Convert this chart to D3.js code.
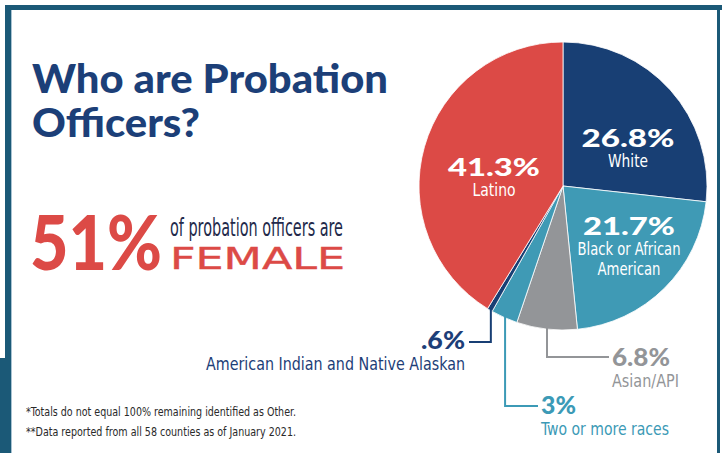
<!DOCTYPE html>
<html>
<head>
<meta charset="utf-8">
<script src="https://cdn.jsdelivr.net/npm/d3@7"></script>
<style>
  html, body { margin: 0; padding: 0; background: #fff; }
  svg { display: block; }
  .cond { font-family: 'Liberation Sans Narrow', 'DejaVu Sans Condensed', Roboto, sans-serif; font-stretch: condensed; }
  .heavy { font-family: Lato, 'Open Sans', sans-serif; font-weight: 900; }
</style>
</head>
<body>
<div id="chart"></div>
<script>
// ---- data ----
const categories = ["White", "Black or African American", "Asian/API", "Two or more races", "American Indian and Native Alaskan", "Latino"];
const values = [26.8, 21.7, 6.8, 3, 0.6, 41.3];
const valueLabels = ["26.8%", "21.7%", "6.8%", "3%", ".6%", "41.3%"];
const headline = ["Who are Probation", "Officers?"];
const femaleShare = "51%";
const femaleText = ["of probation officers are", "FEMALE"];
const footnotes = ["*Totals do not equal 100% remaining identified as Other.", "**Data reported from all 58 counties as of January 2021."];

// ---- styles ----
const sliceColors = ["#183f74", "#3f9ab5", "#939598", "#3f9ab5", "#183f74", "#dc4a46"];
const labelColors = ["#183f74", "#3c9ab6", "#939598", "#3c9ab6", "#1d3e78", "#dc4a46"];
const navy = "#1c3f78", red = "#dc4a46", border = "#1b5977";

const W = 722, H = 453;
const svg = d3.select("#chart").append("svg").attr("width", W).attr("height", H);

// frame
svg.append("rect").attr("x", 5).attr("y", 5).attr("width", W - 5).attr("height", 5).attr("fill", border);
svg.append("rect").attr("x", 5).attr("y", 5).attr("width", 6).attr("height", H - 5).attr("fill", border);
svg.append("rect").attr("x", 0).attr("y", 358).attr("width", 11).attr("height", H - 358).attr("fill", border);
svg.append("rect").attr("x", 11).attr("y", 10).attr("width", 1).attr("height", H - 10).attr("fill", "#a9c3d2");
svg.append("rect").attr("x", 717).attr("y", 10).attr("width", 3).attr("height", H - 10).attr("fill", border);

function txt(s, x, y, size, cls, fill, len, anchor, parent) {
  const t = (parent || svg).append("text").attr("x", x).attr("y", y).attr("class", cls)
    .attr("font-size", size).attr("fill", fill).attr("text-anchor", anchor || "start").text(s);
  if (len) t.attr("textLength", len).attr("lengthAdjust", "spacingAndGlyphs");
  return t;
}

// title
txt(headline[0], 32, 93, 39, "heavy", navy, 356);
txt(headline[1], 32, 137, 39, "heavy", navy, 168);

// 51% female (vertically stretched big figure)
const big = svg.append("g").attr("transform", "translate(30,270) scale(1,1.16)");
const bigT = txt(femaleShare, 0, 0, 66, "heavy", red, null, "start", big);
const bw = bigT.node().getComputedTextLength();
if (bw > 0) big.attr("transform", `translate(30,270) scale(${132 / bw},${(132 / bw) * 1.16})`);
txt(femaleText[0], 170, 236, 24, "cond", "#232a4b", 173);
txt(femaleText[1], 170, 269, 31, "cond", red, 175).attr("stroke", red).attr("stroke-width", 0.35);

// pie
const cx = 563, cy = 186, r = 144;
const pieData = d3.pie().sort(null).value(d => d.value)(categories.map((c, i) => ({ cat: c, value: values[i], label: valueLabels[i], i })));
const arc = d3.arc().innerRadius(0).outerRadius(r);
const g = svg.append("g").attr("transform", `translate(${cx},${cy})`);
g.selectAll("path").data(pieData).join("path")
  .attr("d", arc).attr("fill", d => sliceColors[d.data.i])
  .attr("stroke", "#fff").attr("stroke-width", 0.8);

// inside labels
const inside = {
  0: { x: 628, y: 147, nw: 93, lines: ["White"], lw: [40] },
  1: { x: 629, y: 235, nw: 92, lines: ["Black or African", "American"], lw: [103, 63] },
  5: { x: 494, y: 176, nw: 92, lines: ["Latino"], lw: [43] }
};
pieData.forEach(d => {
  const L = inside[d.data.i];
  if (!L) return;
  txt(d.data.label, L.x, L.y, 25, "heavy", "#fff", L.nw, "middle");
  L.lines.forEach((ln, k) => txt(ln, L.x, L.y + 20 + k * 20, 17, "cond", "#fff", L.lw[k], "middle"));
});

// outside labels with leader lines
const outside = {
  4: { elbowY: 342, endX: 469, tx: 465, ty: 349, anchor: "end", nw: 44, sub: categories[4], sw: 259 },
  3: { elbowY: 406, endX: 538, tx: 541, ty: 414, anchor: "start", nw: 35, sub: categories[3], sw: 128 },
  2: { elbowY: 357, endX: 609, tx: 612, ty: 366, anchor: "start", nw: 58, sub: categories[2], sw: 67 }
};
pieData.forEach(d => {
  const L = outside[d.data.i];
  if (!L) return;
  const mid = (d.startAngle + d.endAngle) / 2;
  const px = cx + (r - 2) * Math.sin(mid), py = cy - (r - 2) * Math.cos(mid);
  const col = labelColors[d.data.i];
  svg.append("path")
    .attr("d", `M${px},${py}V${L.elbowY}H${L.endX}`)
    .attr("fill", "none").attr("stroke", d.data.i === 4 ? sliceColors[4] : col).attr("stroke-width", 2);
  txt(d.data.label, L.tx, L.ty, 24, "heavy", col, L.nw, L.anchor);
  txt(L.sub, L.tx, L.ty + 21, 18, "cond", col, L.sw, L.anchor);
});

// footnotes
txt(footnotes[0], 26, 416, 12.5, "cond", "#2a2a2a", 270);
txt(footnotes[1], 26, 436, 12.5, "cond", "#2a2a2a", 270);
</script>
</body>
</html>
